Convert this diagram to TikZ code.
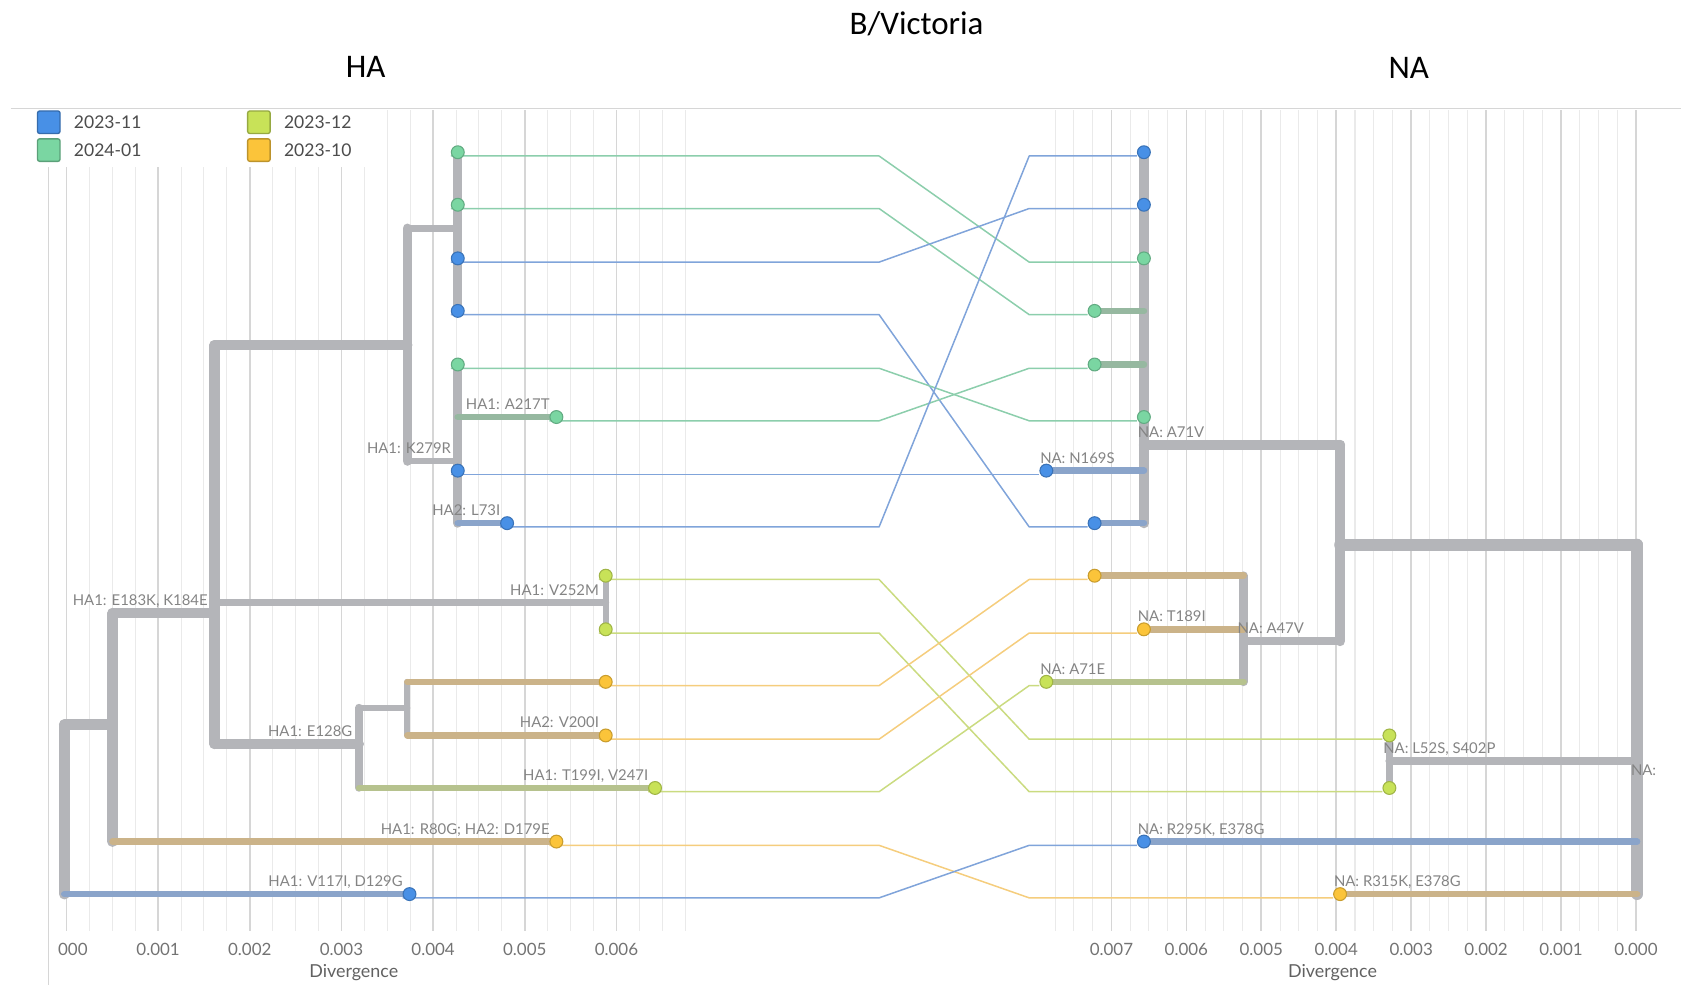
\documentclass[tikz,border=0pt]{standalone}
\usepackage{fontspec}
\setmainfont{Lato}
\newfontfamily\titlefont{Carlito}
\usetikzlibrary{positioning,backgrounds}

\definecolor{brgrey}{RGB}{180,181,185}
\definecolor{brblue}{RGB}{138,164,202}
\definecolor{brtan}{RGB}{203,179,137}
\definecolor{brgreen}{RGB}{150,184,160}
\definecolor{brolive}{RGB}{182,194,142}
\definecolor{ptblue}{RGB}{72,144,230}
\definecolor{ptgreen}{RGB}{122,214,162}
\definecolor{ptlime}{RGB}{200,226,88}
\definecolor{ptorange}{RGB}{251,196,58}
\definecolor{lkblue}{RGB}{128,164,218}
\definecolor{lkgreen}{RGB}{140,206,172}
\definecolor{lklime}{RGB}{202,219,128}
\definecolor{lkorange}{RGB}{245,205,125}
\definecolor{gridmaj}{RGB}{214,214,214}
\definecolor{gridmin}{RGB}{234,234,234}
\definecolor{labgrey}{RGB}{132,132,132}

\begin{document}
\begin{tikzpicture}[x=0.2mm,y=-0.2mm,
    clade/.style={draw=brgrey, line width=#1*0.2mm, line cap=round},
    clade/.default=9.5,
    twig/.style={draw=#1, line width=1.24mm, line cap=round},
    tipdot/.style={circle, inner sep=0pt, minimum size=2.4mm, line width=0.2mm, fill=#1, draw=#1!80!black},
    tangle/.style={line width=0.28mm, line join=round, transform canvas={yshift=-0.7mm}},
    gmaj/.style={draw=gridmaj, line width=0.3mm},
    gmin/.style={draw=gridmin, line width=0.2mm},
    mut/.style={font=\fontsize{7.9}{9}\selectfont, text=labgrey, inner sep=0pt},
    axlab/.style={font=\fontsize{9}{11}\selectfont, text=black!55},
    legsq/.style={draw=#1!75!black, fill=#1, minimum size=4.2mm, inner sep=0pt, rounded corners=0.4mm, line width=0.25mm},
    legtxt/.style={font=\fontsize{9.3}{11}\selectfont, text=black!70, inner sep=0pt},
    heading/.style={font=\titlefont\fontsize{17.5}{20}\selectfont},
    ]
    \useasboundingbox (0,0) rectangle (1568,919);

    % Titles
    \node [heading] (ttl) at (855,22) {B/Victoria};
    \node [heading] (hdha) at (341,62) {HA};
    \node [heading] (hdna) at (1314,63) {NA};

    % HA tips
    \node [tipdot=ptgreen] (h1) at (427,142) {};
    \node [tipdot=ptgreen] (h2) at (427,191) {};
    \node [tipdot=ptblue] (h3) at (427,241) {};
    \node [tipdot=ptblue] (h4) at (427,290) {};
    \node [tipdot=ptgreen] (h5) at (427,340) {};
    \node [tipdot=ptgreen] (h6) at (519,389) {};
    \node [tipdot=ptblue] (h7) at (427,439) {};
    \node [tipdot=ptblue] (h8) at (473,488) {};
    \node [tipdot=ptlime] (h9) at (565,537) {};
    \node [tipdot=ptlime] (h10) at (565,587) {};
    \node [tipdot=ptorange] (h11) at (565,636) {};
    \node [tipdot=ptorange] (h12) at (565,686) {};
    \node [tipdot=ptlime] (h13) at (611,735) {};
    \node [tipdot=ptorange] (h14) at (519,785) {};
    \node [tipdot=ptblue] (h15) at (382,834) {};

    % NA tips
    \node [tipdot=ptblue] (n1) at (1067,142) {};
    \node [tipdot=ptblue] (n2) at (1067,191) {};
    \node [tipdot=ptgreen] (n3) at (1067,241) {};
    \node [tipdot=ptgreen] (n4) at (1021,290) {};
    \node [tipdot=ptgreen] (n5) at (1021,340) {};
    \node [tipdot=ptgreen] (n6) at (1067,389) {};
    \node [tipdot=ptblue] (n7) at (976,439) {};
    \node [tipdot=ptblue] (n8) at (1021,488) {};
    \node [tipdot=ptorange] (n9) at (1021,537) {};
    \node [tipdot=ptorange] (n10) at (1067,587) {};
    \node [tipdot=ptlime] (n11) at (976,636) {};
    \node [tipdot=ptlime] (n12) at (1296,686) {};
    \node [tipdot=ptlime] (n13) at (1296,735) {};
    \node [tipdot=ptblue] (n14) at (1067,785) {};
    \node [tipdot=ptorange] (n15) at (1250,834) {};

    % Internal nodes
    \coordinate (a0) at (60,755);
    \coordinate (a1) at (105,676);
    \coordinate (a2) at (200,572);
    \coordinate (a3) at (380,322);
    \coordinate (a4) at (427,213);
    \coordinate (a5) at (427,430);
    \coordinate (a6) at (335,694);
    \coordinate (a7) at (565,562);
    \coordinate (a8) at (380,660);
    \coordinate (b0) at (1527,730);
    \coordinate (b1) at (1250,508);
    \coordinate (b2) at (1067,415);
    \coordinate (b3) at (1160,598);
    \coordinate (b4) at (1296,710);
    \coordinate (m1) at (820,0);
    \coordinate (m2) at (960,0);

    \begin{scope}[on background layer]
      % Grid
      \foreach \k in {0,...,27} \draw [gmin] ({62+21.375*\k},103) -- ++(0,765);
      \foreach \k in {0,...,6} \draw [gmaj] ({62+85.5*\k},103) -- ++(0,765);
      \foreach \k in {0,...,31} \draw [gmin] ({1526-17.475*\k},103) -- ++(0,765);
      \foreach \k in {0,...,7} \draw [gmaj] ({1526-69.9*\k},103) -- ++(0,765);
      \draw [gmaj, line width=0.25mm] (10,101) -- (1568,101);
      \fill [white] (10,102) rectangle (345,156);
      \draw [gmaj, line width=0.2mm] (45,156) -- (45,919);

      % Tanglegram links
      \foreach \a/\b/\c in {h1/n3/lkgreen, h2/n4/lkgreen, h3/n2/lkblue, h4/n8/lkblue,
          h5/n6/lkgreen, h6/n5/lkgreen, h7/n7/lkblue, h8/n1/lkblue, h9/n12/lklime,
          h10/n13/lklime, h11/n9/lkorange, h12/n10/lkorange, h13/n11/lklime,
          h14/n15/lkorange, h15/n14/lkblue}
        \draw [tangle, draw=\c] (\a.west) -- (\a -| m1) -- (\b -| m2) -- (\b.west);

      % HA tree
      \draw [clade=10] (a0 |- a1) -- (a0 |- h15);
      \draw [clade=10] (a1 |- a2) -- (a1 |- h14);
      \draw [clade=9.5] (a2 |- a3) -- (a2 |- a6);
      \draw [clade=9] (a3 |- a4) -- (a3 |- a5);
      \draw [clade=8.5] (a4 |- h1) -- (a4 |- h4);
      \draw [clade=8.5] (a5 |- h5) -- (a5 |- h8);
      \draw [clade=5.5] (a7 |- h9) -- (a7 |- h10);
      \draw [clade=7] (a6 |- a8) -- (a6 |- h13);
      \draw [clade=5.5] (a8 |- h11) -- (a8 |- h12);
      \draw [clade=10] (a0 |- a1) -- (a1);
      \draw [clade=9.5] (a1 |- a2) -- (a2);
      \draw [clade=9.5] (a2 |- a3) -- (a3);
      \draw [clade=6.5] (a3 |- a4) -- (a4);
      \draw [clade=6.5] (a3 |- a5) -- (a5);
      \draw [clade=6.5] (a2 |- a7) -- (a7);
      \draw [clade=9] (a2 |- a6) -- (a6);
      \draw [clade=5.5] (a6 |- a8) -- (a8);
      \draw [twig=brgreen] (a5 |- h6) -- (h6);
      \draw [twig=brblue] (a5 |- h8) -- (h8);
      \draw [twig=brtan] (a8 |- h11) -- (h11);
      \draw [twig=brtan] (a8 |- h12) -- (h12);
      \draw [twig=brolive] (a6 |- h13) -- (h13);
      \draw [twig=brtan] (a1 |- h14) -- (h14);
      \draw [twig=brblue] (a0 |- h15) -- (h15);

      % NA tree
      \draw [clade=11] (b0 |- b1) -- (b0 |- n15);
      \draw [clade=9.5] (b1 |- b2) -- (b1 |- b3);
      \draw [clade=9.5] (b2 |- n1) -- (b2 |- n8);
      \draw [clade=8] (b3 |- n9) -- (b3 |- n11);
      \draw [clade=6.5] (b4 |- n12) -- (b4 |- n13);
      \draw [clade=11] (b0 |- b1) -- (b1);
      \draw [clade=9.5] (b1 |- b2) -- (b2);
      \draw [clade=8] (b1 |- b3) -- (b3);
      \draw [clade=7.5] (b0 |- b4) -- (b4);
      \draw [twig=brgreen] (b2 |- n4) -- (n4);
      \draw [twig=brgreen] (b2 |- n5) -- (n5);
      \draw [twig=brblue] (b2 |- n7) -- (n7);
      \draw [twig=brblue] (b2 |- n8) -- (n8);
      \draw [twig=brtan] (b3 |- n9) -- (n9);
      \draw [twig=brtan] (b3 |- n10) -- (n10);
      \draw [twig=brolive] (b3 |- n11) -- (n11);
      \draw [twig=brblue] (b0 |- n14) -- (n14);
      \draw [twig=brtan] (b0 |- n15) -- (n15);
    \end{scope}

    % Legend
    \node [legsq=ptblue] (lg1) at (45.5,114) {};
    \node [legtxt, right=2.4mm of lg1] (lg1t) {2023-11};
    \node [legsq=ptgreen] (lg2) at (45.5,140) {};
    \node [legtxt, right=2.4mm of lg2] (lg2t) {2024-01};
    \node [legsq=ptlime] (lg3) at (241.5,114) {};
    \node [legtxt, right=2.4mm of lg3] (lg3t) {2023-12};
    \node [legsq=ptorange] (lg4) at (241.5,140) {};
    \node [legtxt, right=2.4mm of lg4] (lg4t) {2023-10};

    % HA mutations
    \node [mut, anchor=base east] (ma1) at ([shift={(-6,-7)}]h6) {HA1: A217T};
    \node [mut, anchor=base east] (ma2) at ([shift={(-6,-7)}]a5) {HA1: K279R};
    \node [mut, anchor=base east] (ma3) at ([shift={(-6,-7)}]h8) {HA2: L73I};
    \node [mut, anchor=base east] (ma4) at ([shift={(-6,-7)}]a2) {HA1: E183K, K184E};
    \node [mut, anchor=base east] (ma5) at ([shift={(-6,-7)}]a7) {HA1: V252M};
    \node [mut, anchor=base east] (ma6) at ([shift={(-6,-7)}]a6) {HA1: E128G};
    \node [mut, anchor=base east] (ma7) at ([shift={(-6,-7)}]h12) {HA2: V200I};
    \node [mut, anchor=base east] (ma8) at ([shift={(-6,-7)}]h13) {HA1: T199I, V247I};
    \node [mut, anchor=base east] (ma9) at ([shift={(-6,-7)}]h14) {HA1: R80G; HA2: D179E};
    \node [mut, anchor=base east] (ma10) at ([shift={(-6,-7)}]h15) {HA1: V117I, D129G};

    % NA mutations
    \node [mut, anchor=base west] (mb1) at ([shift={(-6,-7)}]b2) {NA: A71V};
    \node [mut, anchor=base west] (mb2) at ([shift={(-6,-7)}]n7) {NA: N169S};
    \node [mut, anchor=base west] (mb3) at ([shift={(-6,-7)}]n10) {NA: T189I};
    \node [mut, anchor=base west] (mb4) at ([shift={(-6,-7)}]b3) {NA: A47V};
    \node [mut, anchor=base west] (mb5) at ([shift={(-6,-7)}]n11) {NA: A71E};
    \node [mut, anchor=base west] (mb6) at ([shift={(-6,-7)}]b4) {NA: L52S, S402P};
    \node [mut, anchor=base west] (mb7) at ([shift={(-6,-7)}]n14) {NA: R295K, E378G};
    \node [mut, anchor=base west] (mb8) at ([shift={(-6,-7)}]n15) {NA: R315K, E378G};
    \node [mut, anchor=base west] (mb9) at ([shift={(-6,-7)}]b0) {NA:};

    % Axes
    \node [axlab] (tkh0) at (68,886) {000};
    \foreach \k in {1,...,6} \node [axlab] (tkh\k) at ({62+85.5*\k},886) {0.00\k};
    \foreach \k in {0,...,7} \node [axlab] (tkn\k) at ({1526-69.9*\k},886) {0.00\k};
    \node [axlab, font=\fontsize{9.5}{11}\selectfont, text=black!62] (dvh) at (330,907) {Divergence};
    \node [axlab, font=\fontsize{9.5}{11}\selectfont, text=black!62] (dvn) at (1243,907) {Divergence};
  \end{tikzpicture}
\end{document}
